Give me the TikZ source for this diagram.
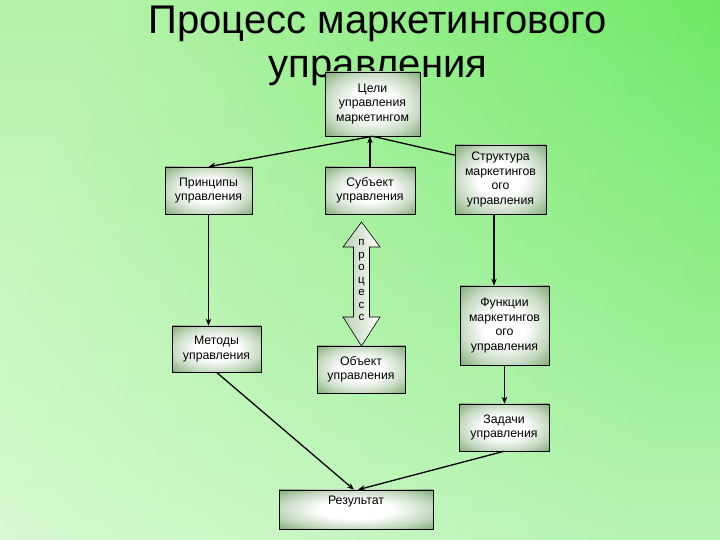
\documentclass[tikz,border=0pt]{standalone}
\usepackage{fontspec}
\setmainfont{Liberation Sans}
\usetikzlibrary{arrows.meta,calc,fadings}
\tikzfading[name=fadeup, top color=transparent!100, bottom color=transparent!0]
\definecolor{bgL}{RGB}{180,243,168}
\definecolor{bgR}{RGB}{100,232,92}
\definecolor{boxOut}{RGB}{125,170,115}
\pgfdeclareradialshading{boxshade}{\pgfpoint{0bp}{0bp}}{color(0bp)=(white); color(12bp)=(white); color(25bp)=(boxOut!45!white); color(36bp)=(boxOut); color(50bp)=(boxOut)}
\begin{document}
\begin{tikzpicture}[x=1pt,y=1pt,
  box/.style={draw=black, line width=0.6pt, shading=boxshade,
    align=center, font=\fontsize{12.3}{14.5}\selectfont, inner sep=1pt},
  arr/.style={line width=1.3pt, -{Stealth[length=7pt,width=5.5pt]}},
  ln/.style={line width=1.3pt}]
\useasboundingbox (0,0) rectangle (720,540);
\shade[left color=bgL, right color=bgR, shading angle=70] (0,0) rectangle (720,540);
\fill[white, opacity=0.55, path fading=fadeup] (0,0) rectangle (720,540);

% title
\node (t1) at (377.5,516) {\fontsize{40}{47}\selectfont Процесс маркетингового};
\node (t2) at (378,469) {\fontsize{40}{47}\selectfont управления};

% boxes
\node[box, minimum width=95, minimum height=64] (cel) at (372.5,436) {Цели\\управления\\маркетингом};
\node[box, minimum width=87, minimum height=47] (princ) at (208.5,349.5) {Принципы\\управления};
\node[box, minimum width=90, minimum height=47] (subj) at (370,349.5) {Субъект\\управления};
\node[box, minimum width=91, minimum height=69] (struct) at (500.5,360.5) {Структура\\маркетингов\\ого\\управления};
\node[box, minimum width=88, minimum height=47] (obj) at (361,170.5) {Объект\\управления};
\node[box, minimum width=89, minimum height=46] (metod) at (216.5,191) {Методы\\управления};
\node[box, minimum width=89, minimum height=79] (func) at (504.5,214.5) {Функции\\маркетингов\\ого\\управления};
\node[box, minimum width=90, minimum height=47] (zad) at (504,112.5) {Задачи\\управления};
\node[box, minimum width=154, minimum height=39] (rez) at (356,30.5) {Результат\\[4pt]};

% process double arrow
\shade[draw=black, line width=0.6pt, left color=boxOut!55!white, right color=white]
  (361.5,318) -- (380,293) -- (369.5,293) -- (369.5,223) -- (380,223) -- (361.5,194)
  -- (343,223) -- (353.5,223) -- (353.5,293) -- (343,293) -- cycle;
\node[align=center, font=\fontsize{11.5}{12.5}\selectfont, inner sep=0pt] (proc) at (361.5,259.5)
  {п\\р\\о\\ц\\е\\с\\с};

% connectors
\draw[arr] (cel.south) -- (princ.north);
\draw[arr] (subj.north) -- (subj.north |- cel.south);
\draw[ln] (cel.south) -- ($(struct.north west)!0.15!(struct.south west)$);
\draw[arr] (princ.south) -- (princ.south |- metod.north);
\draw[arr] ([xshift=-6.5]struct.south) -- ([xshift=-6.5]struct.south |- func.north);
\draw[arr] (func.south) -- (func.south |- zad.north);
\draw[arr] (metod.south) -- ([xshift=-2]rez.north);
\draw[arr] (zad.south) -- ([xshift=2]rez.north);
\end{tikzpicture}
\end{document}
